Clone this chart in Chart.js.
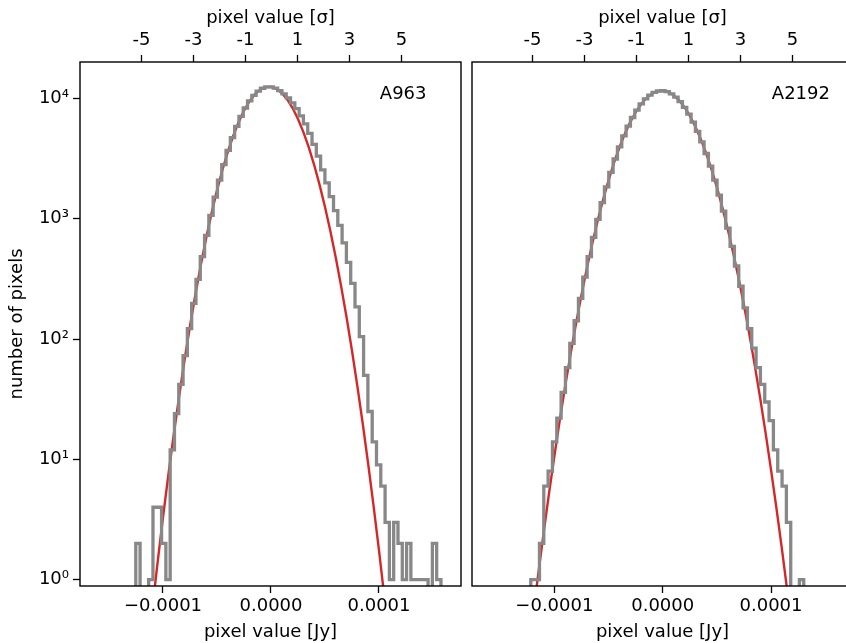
<!DOCTYPE html>
<html>
<head>
<meta charset="utf-8">
<script src="https://cdn.jsdelivr.net/npm/chart.js@4.4.0/dist/chart.umd.min.js"></script>
<style>
  html, body { margin: 0; padding: 0; background: #fff; overflow: hidden; width: 846px; height: 643px; }
  .panel { position: absolute; top: 0; }
</style>
</head>
<body>
<canvas id="histA963" class="panel" style="left:0px" width="470" height="643"></canvas>
<canvas id="histA2192" class="panel" style="left:460px" width="403" height="643"></canvas>
<script>
// ---- data ----
// histogram bins (uniform), counts per bin
const binStartA = -1.252e-4, binWidthA = 3.98e-6;
const countsA = [2, 0, 0, 1, 4, 4, 2, 1, 12, 24,
  42, 73, 122, 198, 314, 485, 729, 1066, 1515, 2097,
  2824, 3703, 4725, 5868, 7091, 8340, 9547, 10634, 11529, 12164,
  12491, 12484, 12180, 11635, 10929, 10122, 9189, 8225, 7178, 6147,
  5137, 4163, 3318, 2550, 1990, 1530, 1170, 880, 630, 435,
  290, 185, 105, 50, 25, 14, 9, 6, 3, 1,
  3, 2, 1, 2, 1, 1, 1, 1, 0, 2, 1];

const binStartB = -1.2179e-4, binWidthB = 4.0e-6;
const countsB = [1, 1, 2, 6, 8, 14, 22, 36, 58, 92,
  142, 218, 328, 485, 700, 990, 1365, 1840, 2430, 3140,
  3960, 4890, 5890, 6950, 8000, 9010, 9920, 10670, 11230, 11540,
  11600, 11390, 10940, 10270, 9420, 8450, 7410, 6350, 5320, 4360,
  3490, 2740, 2100, 1575, 1160, 835, 590, 405, 275, 182,
  122, 84, 58, 42, 30, 21, 12, 8, 6, 3,
  0, 0, 1];

// gaussian fit curves, x in micro-Jy
const fitXA_uJy = [-115, -110, -105, -100, -95, -90, -85, -80, -75, -70, -65, -60, -55, -50, -45, -40,
  -35, -30, -25, -20, -15, -10, -5, 0, 5, 10, 15, 20, 25, 30, 35, 40, 45, 50, 55, 60, 65, 70,
  75, 80, 85, 90, 95, 100, 105, 110];
const fitYA = [0.218, 0.561, 1.39, 3.29, 7.46, 16.2, 33.7, 67.3, 128.5, 235, 413, 693, 1116, 1723, 2546, 3605,
  4892, 6359, 7920, 9452, 10806, 11837, 12424, 12493, 12036, 11112, 9828, 8326, 6760, 5259, 3919, 2798, 1915, 1255, 788, 474, 273, 151,
  79.9, 40.5, 19.7, 9.16, 4.09, 1.75, 0.714, 0.280];

const fitXB_uJy = [-130, -125, -120, -115, -110, -105, -100, -95, -90, -85, -80, -75, -70, -65, -60, -55,
  -50, -45, -40, -35, -30, -25, -20, -15, -10, -5, 0, 5, 10, 15, 20, 25, 30, 35, 40, 45, 50,
  55, 60, 65, 70, 75, 80, 85, 90, 95, 100, 105, 110, 115, 120];
const fitYB = [0.082, 0.201, 0.478, 1.098, 2.43, 5.19, 10.7, 21.3, 40.9, 75.7, 135, 233, 389, 624, 967, 1448,
  2090, 2912, 3914, 5079, 6359, 7683, 8960, 10081, 10948, 11473, 11603, 11324, 10665, 9693, 8502, 7196, 5878, 4633, 3525, 2587, 1833,
  1253, 826, 526, 323, 192, 110, 60.5, 32.3, 16.6, 8.23, 3.94, 1.82, 0.81, 0.349];

// ticks
const jyTicks = [-1e-4, 0, 1e-4];
const jyLabels = ['\u22120.0001', '0.0000', '0.0001'];
const sigmaTicks = [-5, -3, -1, 1, 3, 5];
const countTicks = [1, 10, 100, 1000, 10000];
const countLabels = ['10\u2070', '10\u00b9', '10\u00b2', '10\u00b3', '10\u2074'];

Chart.defaults.font.family = '"DejaVu Sans", sans-serif';
Chart.defaults.font.size = 18;
Chart.defaults.color = '#000';

const EMPTY = 0.3; // zero-count bins drop below the axis

function stepPoints(start, width, counts) {
  const pts = [{x: start, y: EMPTY}];
  counts.forEach((c, k) => pts.push({x: start + k * width, y: c > 0 ? c : EMPTY}));
  pts.push({x: start + counts.length * width, y: EMPTY});
  return pts;
}

const frameAndLabel = {
  id: 'frameAndLabel',
  afterDatasetsDraw(chart, args, opts) {
    const {ctx, chartArea: a} = chart;
    ctx.save();
    ctx.strokeStyle = '#000';
    ctx.lineWidth = 1.4;
    ctx.strokeRect(a.left, a.top, a.right - a.left, a.bottom - a.top);
    ctx.fillStyle = '#000';
    ctx.font = '18px "DejaVu Sans"';
    ctx.textAlign = 'left';
    ctx.textBaseline = 'alphabetic';
    ctx.fillText(opts.label, a.left + 0.787 * (a.right - a.left), a.top + 37);
    ctx.restore();
  }
};

function tickGrid() {
  return {display: true, drawOnChartArea: false, drawTicks: true, tickLength: 7, tickColor: '#000', tickWidth: 1.3};
}

function makePanel(id, cfg) {
  new Chart(document.getElementById(id), {
    type: 'line',
    data: {
      datasets: [
        {data: stepPoints(cfg.binStart, cfg.binWidth, cfg.counts), borderColor: '#888888', borderWidth: 3.3,
          stepped: true, pointRadius: 0, fill: false, clip: 0, borderJoinStyle: 'miter'},
        {data: cfg.fitX.map((x, i) => ({x: x * 1e-6, y: cfg.fitY[i]})), borderColor: '#d62728', borderWidth: 2.4,
          pointRadius: 0, fill: false, clip: 0, tension: 0}
      ]
    },
    options: {
      responsive: false,
      animation: false,
      layout: {padding: {left: cfg.padLeft, right: cfg.padRight, top: 0, bottom: 0}},
      plugins: {legend: {display: false}, tooltip: {enabled: false}, frameAndLabel: {label: cfg.label}},
      scales: {
        x: {
          type: 'linear', position: 'bottom', min: cfg.xMin, max: cfg.xMax, bounds: 'data',
          grid: tickGrid(), border: {display: false},
          afterBuildTicks: s => { s.ticks = jyTicks.map(v => ({value: v})); },
          ticks: {padding: 3, maxRotation: 0, autoSkip: false,
            callback: (v) => jyLabels[jyTicks.indexOf(v)]},
          title: {display: true, text: 'pixel value [Jy]', padding: {top: 0, bottom: 0}},
          afterFit: s => { s.height = 57; }
        },
        x2: {
          type: 'linear', position: 'top', min: cfg.sMin, max: cfg.sMax, bounds: 'data',
          grid: tickGrid(), border: {display: false},
          afterBuildTicks: s => { s.ticks = sigmaTicks.map(v => ({value: v})); },
          ticks: {padding: 4, maxRotation: 0, autoSkip: false, callback: v => String(v)},
          title: {display: true, text: 'pixel value [\u03c3]', padding: {top: 7.5, bottom: 0}},
          afterFit: s => { s.height = 62; }
        },
        y: {
          type: 'logarithmic', position: 'left', min: 0.886, max: 20110, bounds: 'data',
          display: cfg.showY,
          grid: tickGrid(), border: {display: false},
          afterBuildTicks: s => { s.ticks = countTicks.map(v => ({value: v})); },
          ticks: {padding: 4, autoSkip: false, callback: v => countLabels[countTicks.indexOf(v)]},
          title: {display: true, text: 'number of pixels', padding: {top: 7, bottom: 0}},
          afterFit: s => { s.width = cfg.showY ? 80 : 0; }
        }
      }
    },
    plugins: [frameAndLabel]
  });
}

makePanel('histA963', {
  binStart: binStartA, binWidth: binWidthA, counts: countsA, fitX: fitXA_uJy, fitY: fitYA,
  xMin: -1.7685e-4, xMax: 1.7593e-4, sMin: -7.365, sMax: 7.288,
  padLeft: 0, padRight: 9, showY: true, label: 'A963'
});
makePanel('histA2192', {
  binStart: binStartB, binWidth: binWidthB, counts: countsB, fitX: fitXB_uJy, fitY: fitYB,
  xMin: -1.7608e-4, xMax: 1.7571e-4, sMin: -7.327, sMax: 7.327,
  padLeft: 12, padRight: 10, showY: false, label: 'A2192'
});
</script>
</body>
</html>
